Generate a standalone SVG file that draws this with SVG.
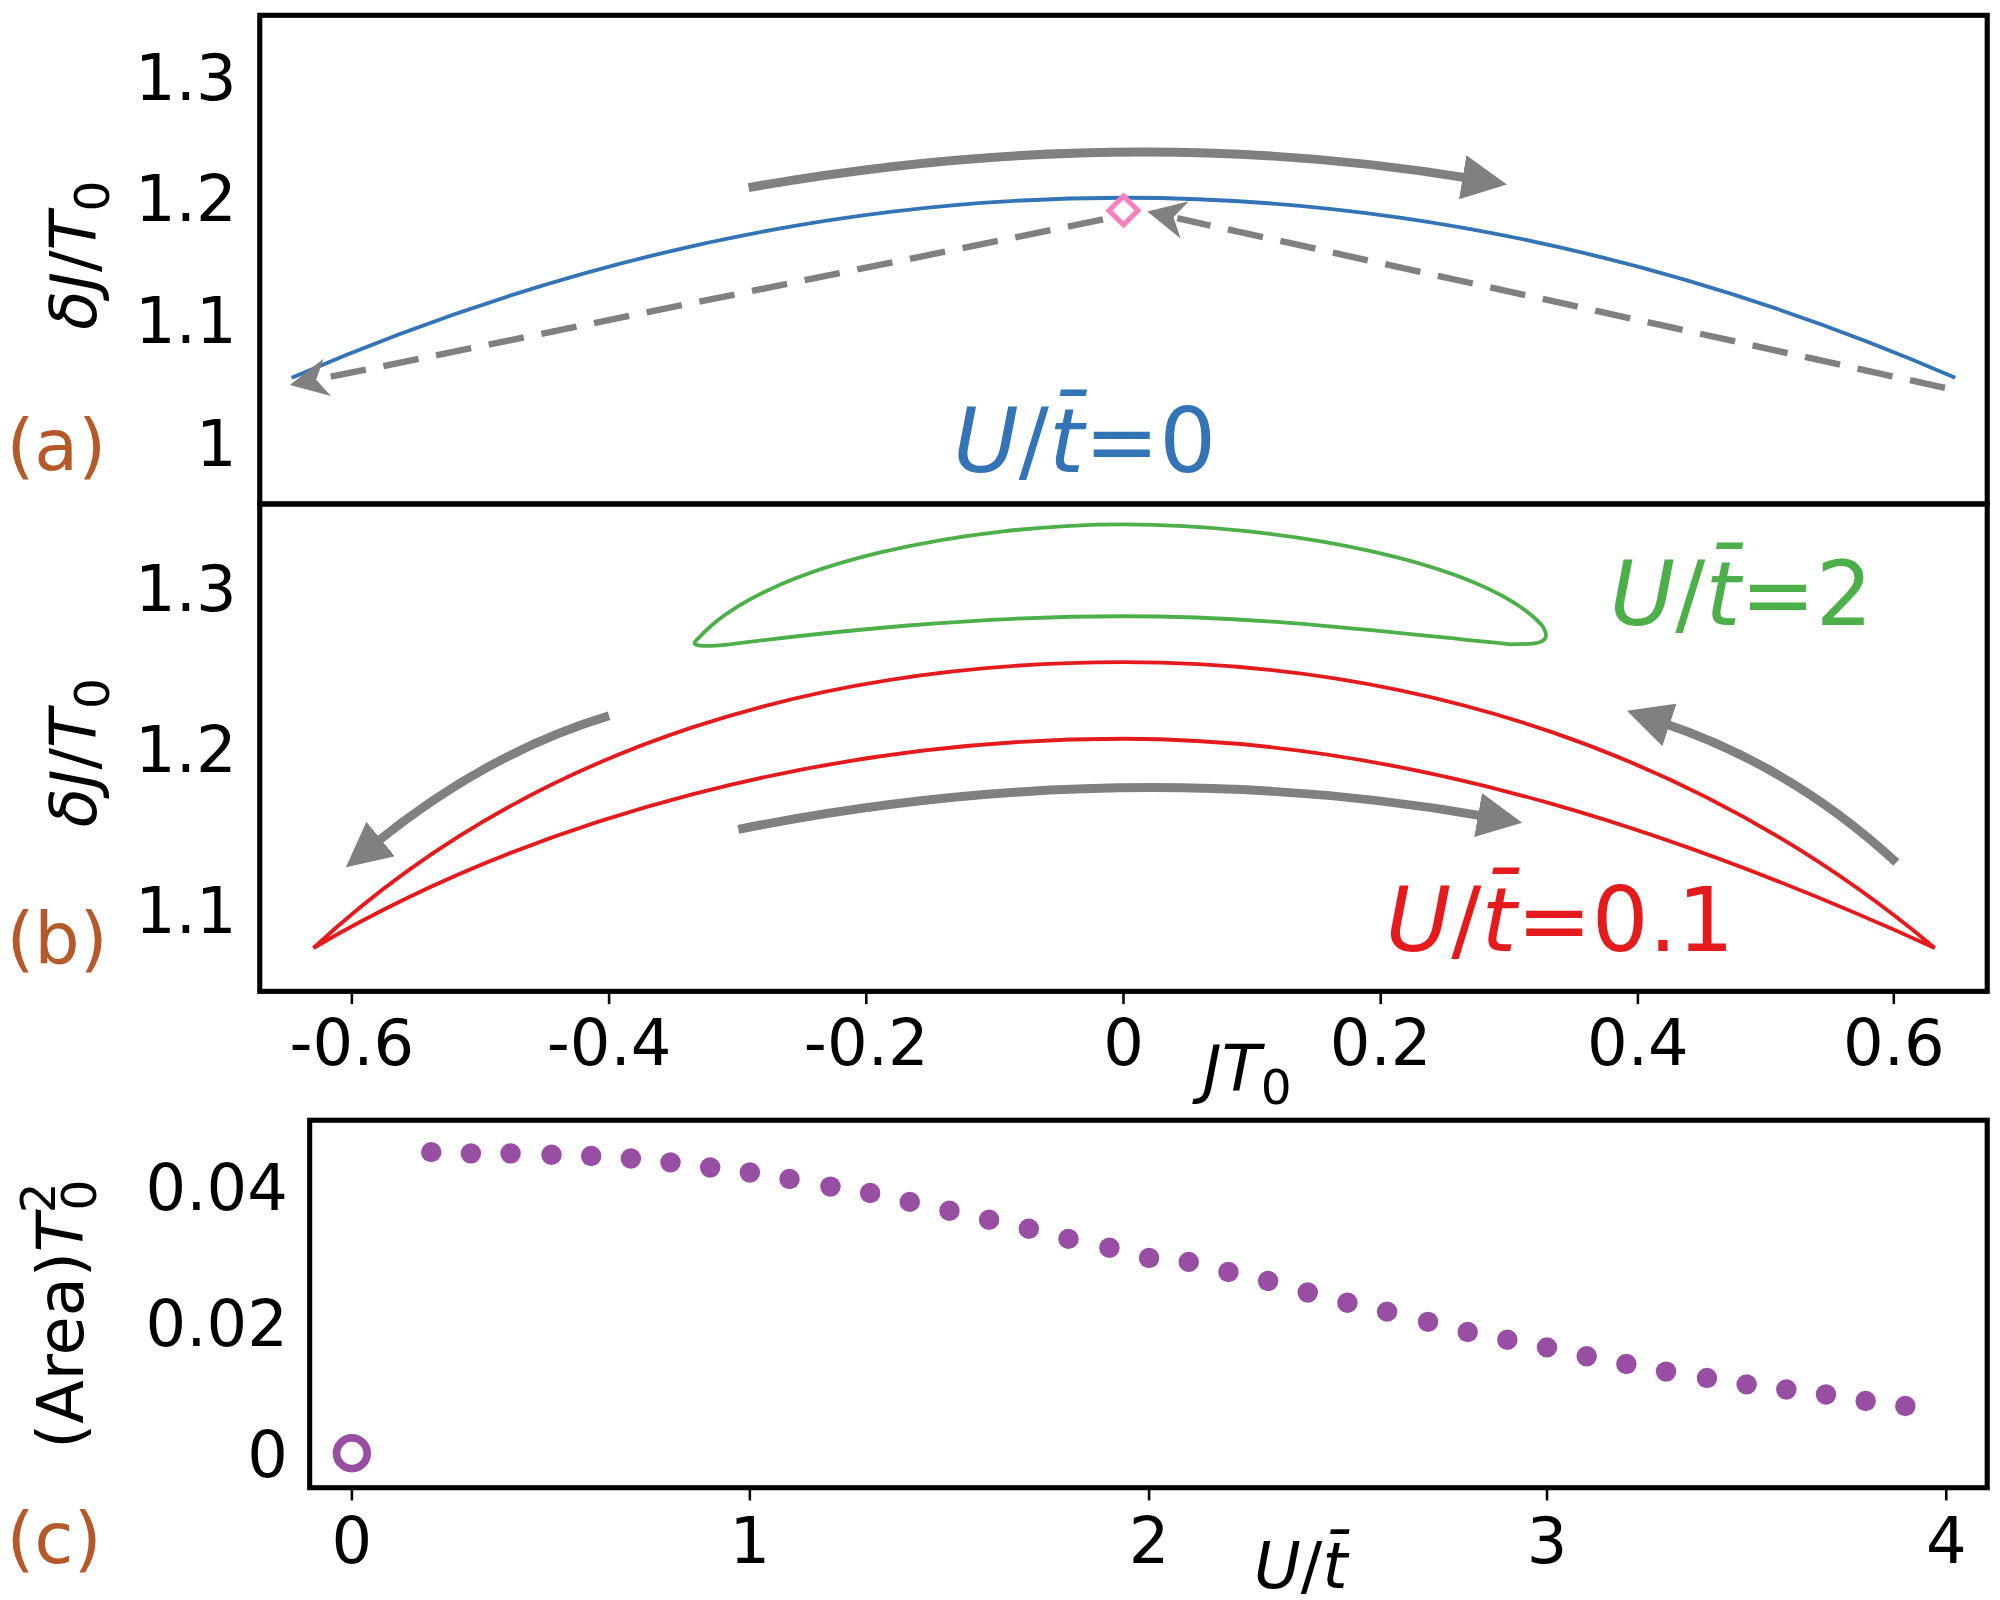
<svg xmlns="http://www.w3.org/2000/svg" width="2000" height="1600" viewBox="0 0 2000 1600">
<style>
.t{font-family:"DejaVu Sans","Liberation Sans",sans-serif;font-size:50px;fill:#000}
.lab{font-family:"DejaVu Sans","Liberation Sans",sans-serif;font-size:70px}
.br{font-family:"DejaVu Sans","Liberation Sans",sans-serif;font-size:56px;fill:#b5592a}
.ax{fill:none;stroke:#000;stroke-width:4}
.g{fill:none;stroke:#808080;stroke-width:7}
.gd{fill:none;stroke:#808080;stroke-width:5;stroke-dasharray:28,14}
.tk{stroke:#000;stroke-width:2}
</style>
<defs>
<marker id="ah" viewBox="0 0 10 10" refX="2" refY="5" markerWidth="5" markerHeight="5" markerUnits="strokeWidth" orient="auto"><path d="M0,0 L10,5 L0,10 Z" fill="#808080"/></marker>
<marker id="ahd" viewBox="0 0 10 10" refX="2" refY="5" markerWidth="6" markerHeight="6" markerUnits="strokeWidth" orient="auto"><path d="M0,0 L10,5 L0,10 L3,5 Z" fill="#808080"/></marker>
</defs>
<rect width="2000" height="1600" fill="#fff"/>
<g transform="scale(1.2796,1.2759)">
<g id="panel-a">
<path d="M228,296 Q878,14 1528,296" fill="none" stroke="#3274b5" stroke-width="3"/>
<rect x="870" y="157" width="16" height="16" transform="rotate(45 878 165)" fill="#fff" stroke="#f781bf" stroke-width="4"/>
<text class="lab" x="745" y="370" fill="#3274b5"><tspan font-style="italic">U</tspan>/<tspan font-style="italic">t̄</tspan>=0</text>
<text class="t" x="185" y="78" text-anchor="end">1.3</text>
<text class="t" x="185" y="173" text-anchor="end">1.2</text>
<text class="t" x="185" y="269" text-anchor="end">1.1</text>
<text class="t" x="185" y="365" text-anchor="end">1</text>
<text class="t" transform="translate(75,200) rotate(-90)" text-anchor="middle" font-size="54"><tspan font-style="italic">δJ</tspan>/<tspan font-style="italic">T</tspan><tspan font-size="38" dy="10">0</tspan></text>
<text class="br" x="5" y="368">(a)</text>
<rect class="ax" x="203" y="12" width="1350" height="383"/>
</g>
<g id="panel-b">
<path d="M546,500 C600,440 760,411 878,411 C1000,411 1160,440 1205,490 C1215,505 1200,505 1180,505 C1080,495 990,483 878,483 C760,483 650,495 570,505 C540,508 540,505 546,500 Z" fill="none" stroke="#4daf4a" stroke-width="3"/>
<path d="M245,743 C420,580 650,519 878,519 C1106,519 1330,590 1512,743 C1330,660 1106,579 878,579 C650,579 420,640 245,743 Z" fill="none" stroke="#e41a1c" stroke-width="3"/>
<text class="lab" x="1258" y="490" fill="#4daf4a"><tspan font-style="italic">U</tspan>/<tspan font-style="italic">t̄</tspan>=2</text>
<text class="lab" x="1083" y="745" fill="#e41a1c"><tspan font-style="italic">U</tspan>/<tspan font-style="italic">t̄</tspan>=0.1</text>
<text class="t" x="185" y="479" text-anchor="end">1.3</text>
<text class="t" x="185" y="605" text-anchor="end">1.2</text>
<text class="t" x="185" y="731" text-anchor="end">1.1</text>
<text class="t" transform="translate(75,590) rotate(-90)" text-anchor="middle" font-size="54"><tspan font-style="italic">δJ</tspan>/<tspan font-style="italic">T</tspan><tspan font-size="38" dy="10">0</tspan></text>
<text class="br" x="5" y="755">(b)</text>
<rect class="ax" x="203" y="395" width="1350" height="382"/>
<g class="tk">
<line x1="275" y1="777" x2="275" y2="787"/><line x1="476" y1="777" x2="476" y2="787"/><line x1="677" y1="777" x2="677" y2="787"/><line x1="878" y1="777" x2="878" y2="787"/><line x1="1079" y1="777" x2="1079" y2="787"/><line x1="1280" y1="777" x2="1280" y2="787"/><line x1="1480" y1="777" x2="1480" y2="787"/>
</g>
<text class="t" x="275" y="835" text-anchor="middle">-0.6</text>
<text class="t" x="476" y="835" text-anchor="middle">-0.4</text>
<text class="t" x="677" y="835" text-anchor="middle">-0.2</text>
<text class="t" x="878" y="835" text-anchor="middle">0</text>
<text class="t" x="1079" y="835" text-anchor="middle">0.2</text>
<text class="t" x="1280" y="835" text-anchor="middle">0.4</text>
<text class="t" x="1480" y="835" text-anchor="middle">0.6</text>
<text class="t" x="940" y="855" font-size="54"><tspan font-style="italic">JT</tspan><tspan font-size="38" dy="10">0</tspan></text>
</g>
<g id="connectors">
<path class="g" d="M585,147 Q878,95 1150,140" marker-end="url(#ah)"/>
<path class="gd" d="M1520,304 L920,171" marker-end="url(#ahd)"/>
<path class="gd" d="M862,172 L250,297" marker-end="url(#ahd)"/>
<path class="g" d="M476,561 Q380,590 292,662" marker-end="url(#ah)"/>
<path class="g" d="M1482,676 Q1400,600 1298,566" marker-end="url(#ah)"/>
<path class="g" d="M577,650 Q878,590 1162,640" marker-end="url(#ah)"/>
</g>
<g id="panel-c">
<rect class="ax" x="242" y="878" width="1311" height="288"/>
<text class="t" x="225" y="948" text-anchor="end">0.04</text>
<text class="t" x="225" y="1055" text-anchor="end">0.02</text>
<text class="t" x="225" y="1158" text-anchor="end">0</text>
<g class="tk"><line x1="275" y1="1166" x2="275" y2="1176"/><line x1="586" y1="1166" x2="586" y2="1176"/><line x1="898" y1="1166" x2="898" y2="1176"/><line x1="1209" y1="1166" x2="1209" y2="1176"/><line x1="1521" y1="1166" x2="1521" y2="1176"/></g>
<text class="t" x="275" y="1225" text-anchor="middle">0</text>
<text class="t" x="586" y="1225" text-anchor="middle">1</text>
<text class="t" x="898" y="1225" text-anchor="middle">2</text>
<text class="t" x="1209" y="1225" text-anchor="middle">3</text>
<text class="t" x="1521" y="1225" text-anchor="middle">4</text>
<text class="t" x="980" y="1245" font-size="58"><tspan font-style="italic">U</tspan>/<tspan font-style="italic">t̄</tspan></text>
<text class="t" transform="translate(65,1030) rotate(-90)" text-anchor="middle" font-size="54">(Area)<tspan font-style="italic">T</tspan><tspan font-size="38" dy="-22">2</tspan><tspan font-size="38" dx="-22" dy="32">0</tspan></text>
<text class="br" x="5" y="1225">(c)</text>
<circle cx="275" cy="1139" r="12" fill="none" stroke="#984ea3" stroke-width="6"/>
<g fill="#984ea3">
<circle cx="337" cy="903" r="8"/><circle cx="368" cy="904" r="8"/><circle cx="399" cy="904" r="8"/><circle cx="431" cy="905" r="8"/><circle cx="462" cy="906" r="8"/><circle cx="493" cy="908" r="8"/><circle cx="524" cy="911" r="8"/><circle cx="555" cy="915" r="8"/><circle cx="586" cy="919" r="8"/><circle cx="617" cy="924" r="8"/><circle cx="649" cy="930" r="8"/><circle cx="680" cy="935" r="8"/><circle cx="711" cy="942" r="8"/><circle cx="742" cy="949" r="8"/><circle cx="773" cy="956" r="8"/><circle cx="804" cy="963" r="8"/><circle cx="835" cy="971" r="8"/><circle cx="867" cy="978" r="8"/><circle cx="898" cy="986" r="8"/><circle cx="929" cy="989" r="8"/><circle cx="960" cy="997" r="8"/><circle cx="991" cy="1004" r="8"/><circle cx="1022" cy="1013" r="8"/><circle cx="1053" cy="1021" r="8"/><circle cx="1084" cy="1028" r="8"/><circle cx="1116" cy="1036" r="8"/><circle cx="1147" cy="1044" r="8"/><circle cx="1178" cy="1050" r="8"/><circle cx="1209" cy="1056" r="8"/><circle cx="1240" cy="1063" r="8"/><circle cx="1271" cy="1069" r="8"/><circle cx="1302" cy="1075" r="8"/><circle cx="1334" cy="1080" r="8"/><circle cx="1365" cy="1085" r="8"/><circle cx="1396" cy="1089" r="8"/><circle cx="1427" cy="1093" r="8"/><circle cx="1458" cy="1098" r="8"/><circle cx="1489" cy="1102" r="8"/>
</g>
</g>
</g>
</svg>
